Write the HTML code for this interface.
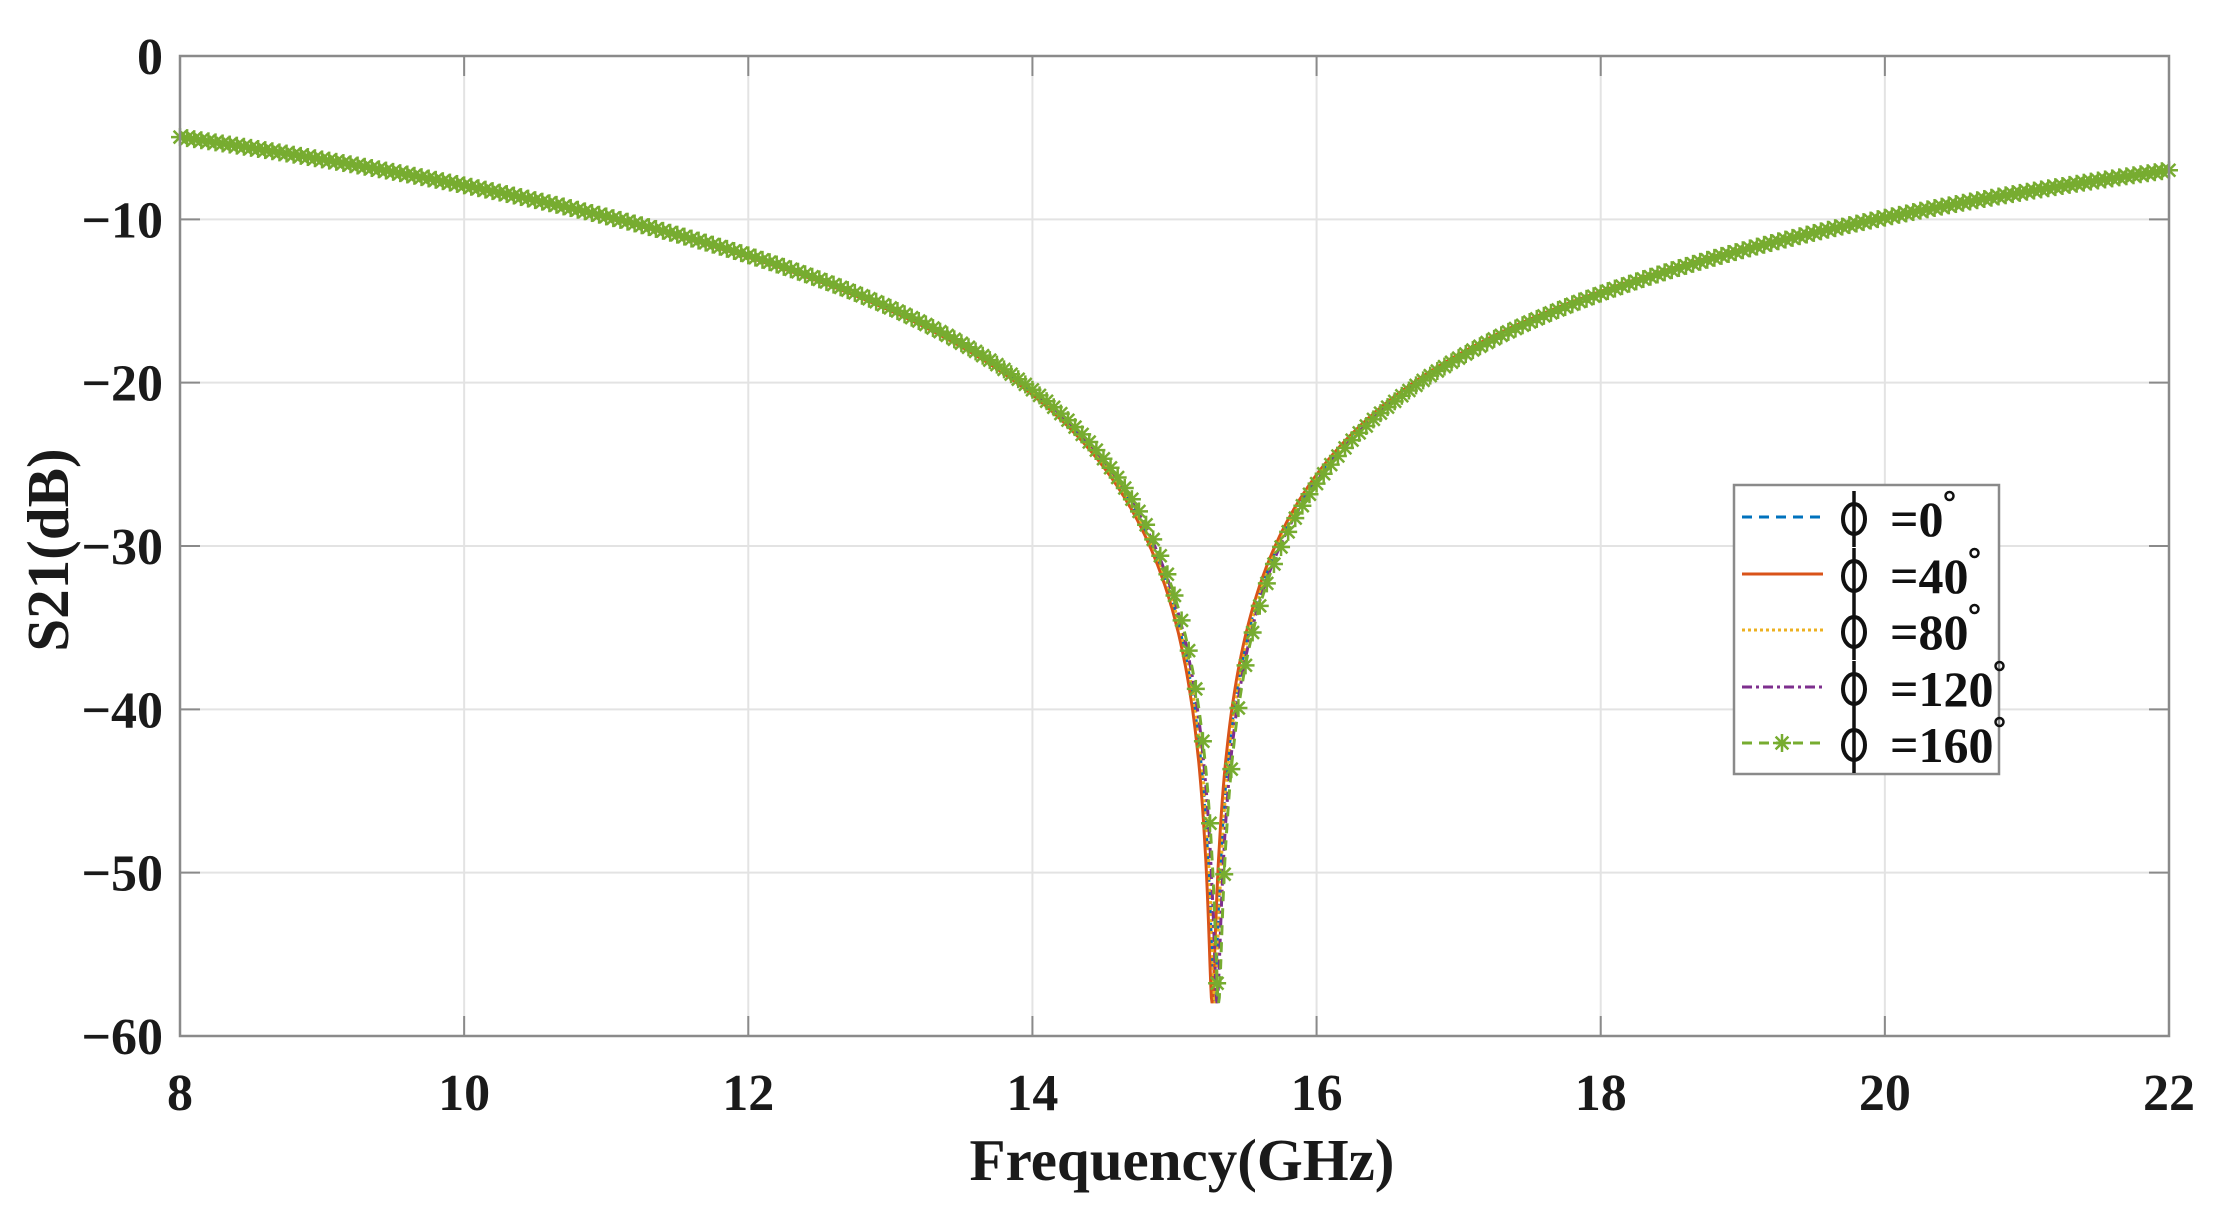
<!DOCTYPE html>
<html><head><meta charset="utf-8"><style>
html,body{margin:0;padding:0;background:#fff;}
svg{display:block;font-family:"Liberation Serif",serif;font-weight:bold;}
</style></head><body>
<svg id="s" width="2221" height="1217" viewBox="0 0 2221 1217" xmlns="http://www.w3.org/2000/svg">
<rect width="2221" height="1217" fill="#fff"/>
<g id="grid" stroke="#e3e3e3" stroke-width="2"></g>
<g id="ser" fill="none"></g>
<rect x="180" y="56" width="1989" height="980" fill="none" stroke="#8a8a8a" stroke-width="2.5"/>
<g id="ticks" stroke="#8a8a8a" stroke-width="2"></g>
<g id="lab" font-size="52" fill="#1a1a1a"></g>
<text x="1182" y="1180" font-size="59" text-anchor="middle" fill="#1a1a1a">Frequency(GHz)</text>
<text transform="translate(68,550) rotate(-90)" font-size="59" text-anchor="middle" fill="#1a1a1a">S21(dB)</text>
<g id="leg"></g>
</svg>
<script>
const L=180,R=2169,T=56,B=1036;
const X=f=>L+(f-8)*(R-L)/14, Y=d=>T+(-d)*(B-T)/60;
const ns="http://www.w3.org/2000/svg";
function el(t,a,p){const e=document.createElementNS(ns,t);for(const k in a)e.setAttribute(k,a[k]);if(p)document.getElementById(p).appendChild(e);return e;}
for(let f=10;f<22;f+=2){el('line',{x1:X(f),x2:X(f),y1:T,y2:B},'grid');}
for(let d=-10;d>-60;d-=10){el('line',{x1:L,x2:R,y1:Y(d),y2:Y(d)},'grid');}
for(let f=8;f<=22;f+=2){el('line',{x1:X(f),x2:X(f),y1:B,y2:B-20},'ticks');el('line',{x1:X(f),x2:X(f),y1:T,y2:T+20},'ticks');
 const t=el('text',{x:X(f),y:1110,'text-anchor':'middle'},'lab');t.textContent=f;}
for(let d=0;d>=-60;d-=10){el('line',{x1:L,x2:L+20,y1:Y(d),y2:Y(d)},'ticks');el('line',{x1:R,x2:R-20,y1:Y(d),y2:Y(d)},'ticks');
 const t=el('text',{x:163,y:Y(d)+18,'text-anchor':'end'},'lab');t.textContent=d==0?'0':'\u2212'+(-d);}
function db(f,f0){const D=f-f0;return 20*Math.log10(Math.sqrt(D*D+0.0176*0.0176))-22.9-0.09*D;}
function pathN(f0){let pts=[];for(let i=0;i<=2800;i++)pts.push(8+i*0.005);pts.push(f0);pts.sort((a,b)=>a-b);
 return pts.map((f,i)=>(i?'L':'M')+X(f).toFixed(1)+','+Y(Math.max(db(f,f0),-60)).toFixed(1)).join('');}
const S=[
 {c:'#0072bd',f0:15.28,da:'10 7'},
 {c:'#d95319',f0:15.265,da:''},
 {c:'#edb120',f0:15.285,da:'3 3'},
 {c:'#7e2f8e',f0:15.30,da:'10 4 3 4'},
 {c:'#77ac30',f0:15.31,da:'10 7'}];
S.forEach(s=>{const a={d:pathN(s.f0),stroke:s.c,'stroke-width':3};if(s.da)a['stroke-dasharray']=s.da;el('path',a,'ser');});
function star(x,y,r,p){const g=el('g',{stroke:'#77ac30','stroke-width':2.5},p);
 for(let k=0;k<4;k++){const a=k*Math.PI/4;g.appendChild(el('line',{x1:x-r*Math.cos(a),y1:y-r*Math.sin(a),x2:x+r*Math.cos(a),y2:y+r*Math.sin(a)}));}}
for(let i=0;i<=280;i++){const f=8+i*0.05;const d=db(f,15.31);if(d<-60)continue;star(X(f),Y(d),9,'ser');}
// legend
el('rect',{x:1734,y:485,width:265,height:289,fill:'#fff',stroke:'#8a8a8a','stroke-width':2.5},'leg');
const ys=[517,574,630,687,743],labs=['=0','=40','=80','=120','=160'];
S.forEach((s,i)=>{const y=ys[i];const a={x1:1742,x2:1823,y1:y,y2:y,stroke:s.c,'stroke-width':3};if(s.da)a['stroke-dasharray']=s.da;el('line',a,'leg');
 if(i==4)star(1782,y,9,'leg');
 el('ellipse',{cx:1854,cy:y+2,rx:11,ry:15,fill:'none',stroke:'#111','stroke-width':4},'leg');
 el('line',{x1:1854,x2:1854,y1:y-26,y2:y+30,stroke:'#111','stroke-width':3.5},'leg');
 const t=el('text',{x:1890,y:y+19,'font-size':50,fill:'#111'},'leg');t.textContent=labs[i];
 let w=t.getComputedTextLength();
 el('circle',{cx:1890+w+6,cy:y-21,r:4,fill:'none',stroke:'#111','stroke-width':2.5},'leg');});
</script>
</body></html>
